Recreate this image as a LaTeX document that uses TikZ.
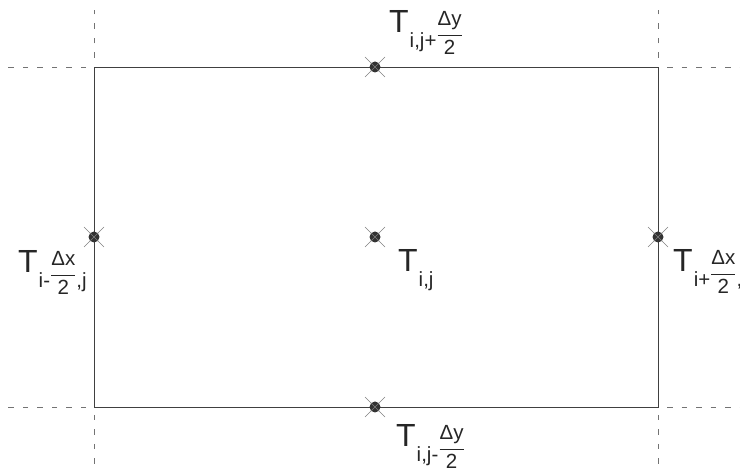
\documentclass[tikz,border=0pt]{standalone}
\usepackage{fontspec}
\setmainfont{Liberation Sans}
\newcommand{\fr}[2]{\raisebox{7.5pt}{$\displaystyle\frac{\textrm{#1}}{\textrm{#2}}$}}
\newcommand{\lsub}[1]{\kern1pt\raisebox{-14.5pt}{\fontsize{20.5}{20.5}\selectfont #1}}
\begin{document}
\begin{tikzpicture}[x=1pt,y=-1pt]
\useasboundingbox (0,0) rectangle (740,470);
\tikzset{
  edge/.style={draw=black!75, line width=0.9pt},
  guide/.style={draw=black!55, line width=0.8pt, dash pattern=on 5.5pt off 9pt},
  xline/.style={draw=black!50, line width=0.5pt},
  lbl/.style={anchor=base west, inner sep=0pt, font=\fontsize{32}{32}\selectfont, text=black!85}
}
% corners
\coordinate (A) at (94,67);
\coordinate (B) at (658,67);
\coordinate (C) at (658,407);
\coordinate (D) at (94,407);
% guide ends
\coordinate (Al) at (8,67);   \coordinate (At) at (94,10);
\coordinate (Bu) at (658,10); \coordinate (Br) at (740,67);
\coordinate (Cr) at (740,407);\coordinate (Cd) at (658,470);
\coordinate (Dl) at (8,407);  \coordinate (Dd) at (94,470);
\draw[edge] (A) rectangle (C);
\draw[guide] ([xshift=-8pt]A) -- (Al);
\draw[guide] ([yshift=9pt]A) -- (At);
\draw[guide] ([yshift=9pt]B) -- (Bu);
\draw[guide] ([xshift=9pt]B) -- (Br);
\draw[guide] ([xshift=9pt]C) -- (Cr);
\draw[guide] ([yshift=-8pt]C) -- (Cd);
\draw[guide] ([xshift=-8pt]D) -- (Dl);
\draw[guide] ([yshift=-8pt]D) -- (Dd);
% probe points
\coordinate (pt) at (375,67);
\coordinate (pl) at (94,237);
\coordinate (pc) at (375,237);
\coordinate (pr) at (658,237);
\coordinate (pb) at (375,407);
\foreach \p in {pt,pl,pc,pr,pb}{
  \fill[black!80] (\p) circle (5.5pt);
  \draw[xline] (\p) +(-10,-10) -- +(10,10) (\p) +(-10,10) -- +(10,-10);
}
% labels
\node[lbl] (Lt) at (389,33) {T\lsub{i,j+\fr{Δy}{2}}};
\node[lbl] (Ll) at (18,273) {T\lsub{i-\fr{Δx}{2},j}};
\node[lbl] (Lc) at (398,272) {T\lsub{i,j}};
\node[lbl] (Lr) at (673,272) {T\lsub{i+\fr{Δx}{2},j}};
\node[lbl] (Lb) at (396,447) {T\lsub{i,j-\fr{Δy}{2}}};
\end{tikzpicture}
\end{document}
